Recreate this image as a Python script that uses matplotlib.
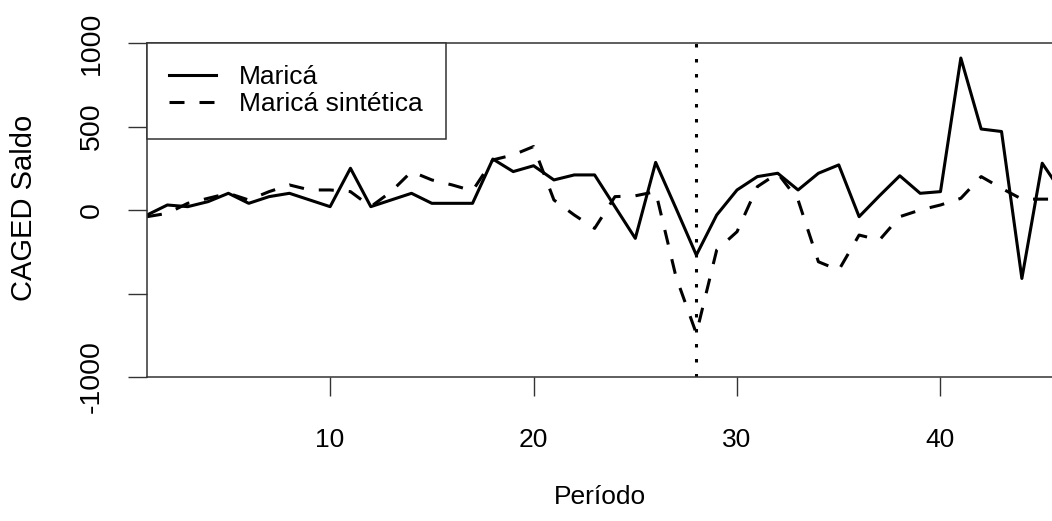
import numpy as np
import matplotlib.pyplot as plt

plt.rcParams['font.family'] = ['Liberation Sans', 'DejaVu Sans']
plt.rcParams['lines.scale_dashes'] = False

periodo = np.arange(1, 47)
marica = [-30, 30, 20, 50, 100, 40, 80, 100, 60, 20,
          250, 20, 60, 100, 40, 40, 40, 305, 230, 265,
          180, 210, 210, 20, -170, 285, 10, -270, -30, 120,
          200, 220, 120, 220, 270, -40, 85, 205, 100, 110,
          910, 485, 470, -410, 280, 100]
marica_sint = [-40, -20, 40, 70, 100, 60, 110, 150, 120, 120,
               110, 20, 110, 230, 180, 150, 115, 300, 330, 380,
               60, -30, -110, 80, 85, 110, -400, -740, -240, -130,
               140, 220, 60, -310, -360, -150, -180, -40, 0, 30,
               70, 200, 130, 65, 65, 65]
tratamento = 28

fig = plt.figure(figsize=(10.52, 5.21), dpi=100)
ax = fig.add_axes([147 / 1052, (521 - 377) / 521, (1053 - 147) / 1052, (377 - 43) / 521])

ax.plot(periodo, marica, color='black', lw=2.2, ls='-', label='Maricá')
ax.plot(periodo, marica_sint, color='black', lw=2.2, ls=(0, (10.8, 10.8)),
        label='Maricá sintética')
ax.axvline(tratamento, color='black', lw=2.2, ls=(0, (2.5, 8.3)))

ax.set_xlim(1, 45.53)
ax.set_ylim(-1000, 1000)
ax.set_xticks([10, 20, 30, 40])
ax.set_yticks([-1000, -500, 0, 500, 1000])
ax.set_yticklabels(['-1000', '', '0', '500', '1000'], rotation=90, va='center')
ax.tick_params(length=13.5, width=1, color='#333333')
ax.tick_params(axis='x', labelsize=19, pad=23)
ax.tick_params(axis='y', labelsize=20.5, pad=17)
for s in ax.spines.values():
    s.set_linewidth(1.1)
    s.set_color('#333333')

ax.set_xlabel('Período', fontsize=19, va='center')
ax.xaxis.set_label_coords(600 / 1052, 1 - 497 / 521, transform=fig.transFigure)
ax.set_ylabel('CAGED Saldo', fontsize=21, va='center', ha='center')
ax.yaxis.set_label_coords(24 / 1052, 1 - 208 / 521, transform=fig.transFigure)

leg = ax.legend(loc='upper left', fontsize=19, frameon=True, fancybox=False,
                edgecolor='#333333', framealpha=1, handlelength=1.78,
                borderaxespad=0, borderpad=0.85, labelspacing=0.1, handletextpad=0.87)
leg.get_frame().set_linewidth(1.1)

fig.savefig('out.png', dpi=100)
